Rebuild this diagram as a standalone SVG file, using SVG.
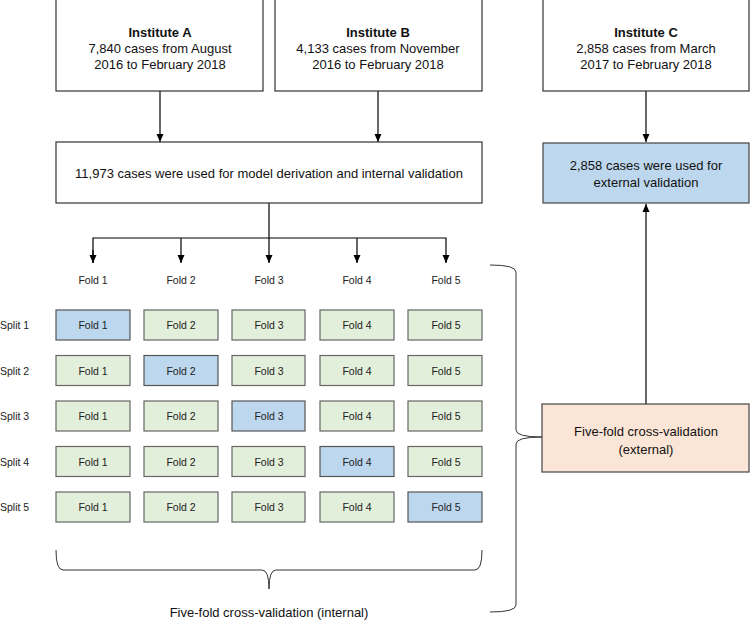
<svg xmlns="http://www.w3.org/2000/svg" width="750" height="620" viewBox="0 0 750 620">
<defs>
<marker id="ah" viewBox="0 0 8 8" refX="8" refY="4" markerWidth="8" markerHeight="8" markerUnits="userSpaceOnUse" orient="auto">
<path d="M0,0.5 L8,4 L0,7.5 Z" fill="#000"/>
</marker>
<style>
.box{fill:#fff;stroke:#333;stroke-width:1.2}
.blue{fill:#bdd7ee;stroke:#444;stroke-width:1.2}
.orange{fill:#fbe5d6;stroke:#444;stroke-width:1.2}
.cell{fill:#e2efda;stroke:#666;stroke-width:1.2}
.cellb{fill:#bdd7ee;stroke:#555;stroke-width:1.2}
.t{font-family:"Liberation Sans",Arial,sans-serif;font-size:13px;fill:#111;text-anchor:middle}
.b{font-weight:bold}
.s{font-family:"Liberation Sans",Arial,sans-serif;font-size:10.5px;fill:#222;text-anchor:middle}
.sl{font-family:"Liberation Sans",Arial,sans-serif;font-size:10.5px;fill:#222}
.ln{fill:none;stroke:#000;stroke-width:1.2}
.br{fill:none;stroke:#333;stroke-width:1}
</style>
</defs>

<g id="connectors">
<line class="ln" x1="160" y1="91" x2="160" y2="142" marker-end="url(#ah)"/>
<line class="ln" x1="378" y1="91" x2="378" y2="142" marker-end="url(#ah)"/>
<line class="ln" x1="646" y1="91" x2="646" y2="142" marker-end="url(#ah)"/>
<line class="ln" x1="646" y1="404" x2="646" y2="204" marker-end="url(#ah)"/>
<line class="ln" x1="269" y1="203" x2="269" y2="263" marker-end="url(#ah)"/>
<polyline class="ln" points="93,263 93,238 446,238 446,263" marker-end="url(#ah)"/>
<line class="ln" x1="93" y1="250" x2="93" y2="263" marker-end="url(#ah)"/>
<line class="ln" x1="181" y1="238" x2="181" y2="263" marker-end="url(#ah)"/>
<line class="ln" x1="357" y1="238" x2="357" y2="263" marker-end="url(#ah)"/>
<path class="br" d="M56,550 Q56,570 63,570 L262,570 Q269,570 269,589 Q269,570 276,570 L475,570 Q482,570 482,550"/>
<path class="br" d="M490,265 Q516,265 516,272 L516,430 Q516,437 542,437 Q516,437 516,444 L516,605 Q516,612 490,612"/>
</g>

<g id="instA">
<rect class="box" x="56" y="-1" width="207" height="92"/>
<text class="t b" x="160" y="37">Institute A</text>
<text class="t" x="160" y="53">7,840 cases from August</text>
<text class="t" x="160" y="69">2016 to February 2018</text>
</g>
<g id="instB">
<rect class="box" x="275" y="-1" width="207" height="92"/>
<text class="t b" x="378" y="37">Institute B</text>
<text class="t" x="378" y="53">4,133 cases from November</text>
<text class="t" x="378" y="69">2016 to February 2018</text>
</g>
<g id="instC">
<rect class="box" x="543" y="-1" width="206" height="92"/>
<text class="t b" x="646" y="37">Institute C</text>
<text class="t" x="646" y="53">2,858 cases from March</text>
<text class="t" x="646" y="69">2017 to February 2018</text>
</g>
<g id="derivation">
<rect class="box" x="56" y="142" width="426" height="61"/>
<text class="t" x="269" y="178">11,973 cases were used for model derivation and internal validation</text>
</g>
<g id="external">
<rect class="blue" x="543" y="143" width="206" height="60"/>
<text class="t" x="646" y="170">2,858 cases were used for</text>
<text class="t" x="646" y="187">external validation</text>
</g>
<g id="cvExternal">
<rect class="orange" x="542" y="404" width="207" height="68"/>
<text class="t" x="646" y="436">Five-fold cross-validation</text>
<text class="t" x="646" y="454">(external)</text>
</g>

<g id="foldLabels">
<text class="s" x="93" y="284">Fold 1</text>
<text class="s" x="181" y="284">Fold 2</text>
<text class="s" x="269" y="284">Fold 3</text>
<text class="s" x="357" y="284">Fold 4</text>
<text class="s" x="446" y="284">Fold 5</text>
</g>

<g id="split1">
<text class="sl" x="0" y="329">Split 1</text>
<rect class="cellb" x="56" y="310" width="74" height="30"/><text class="s" x="93" y="329">Fold 1</text>
<rect class="cell" x="144" y="310" width="74" height="30"/><text class="s" x="181" y="329">Fold 2</text>
<rect class="cell" x="232" y="310" width="73" height="30"/><text class="s" x="269" y="329">Fold 3</text>
<rect class="cell" x="320" y="310" width="74" height="30"/><text class="s" x="357" y="329">Fold 4</text>
<rect class="cell" x="408" y="310" width="74" height="30"/><text class="s" x="446" y="329">Fold 5</text>
</g>
<g id="split2">
<text class="sl" x="0" y="375">Split 2</text>
<rect class="cell" x="56" y="355.5" width="74" height="30"/><text class="s" x="93" y="374.5">Fold 1</text>
<rect class="cellb" x="144" y="355.5" width="74" height="30"/><text class="s" x="181" y="374.5">Fold 2</text>
<rect class="cell" x="232" y="355.5" width="73" height="30"/><text class="s" x="269" y="374.5">Fold 3</text>
<rect class="cell" x="320" y="355.5" width="74" height="30"/><text class="s" x="357" y="374.5">Fold 4</text>
<rect class="cell" x="408" y="355.5" width="74" height="30"/><text class="s" x="446" y="374.5">Fold 5</text>
</g>
<g id="split3">
<text class="sl" x="0" y="420">Split 3</text>
<rect class="cell" x="56" y="401" width="74" height="30"/><text class="s" x="93" y="420">Fold 1</text>
<rect class="cell" x="144" y="401" width="74" height="30"/><text class="s" x="181" y="420">Fold 2</text>
<rect class="cellb" x="232" y="401" width="73" height="30"/><text class="s" x="269" y="420">Fold 3</text>
<rect class="cell" x="320" y="401" width="74" height="30"/><text class="s" x="357" y="420">Fold 4</text>
<rect class="cell" x="408" y="401" width="74" height="30"/><text class="s" x="446" y="420">Fold 5</text>
</g>
<g id="split4">
<text class="sl" x="0" y="466">Split 4</text>
<rect class="cell" x="56" y="446.5" width="74" height="30"/><text class="s" x="93" y="465.5">Fold 1</text>
<rect class="cell" x="144" y="446.5" width="74" height="30"/><text class="s" x="181" y="465.5">Fold 2</text>
<rect class="cell" x="232" y="446.5" width="73" height="30"/><text class="s" x="269" y="465.5">Fold 3</text>
<rect class="cellb" x="320" y="446.5" width="74" height="30"/><text class="s" x="357" y="465.5">Fold 4</text>
<rect class="cell" x="408" y="446.5" width="74" height="30"/><text class="s" x="446" y="465.5">Fold 5</text>
</g>
<g id="split5">
<text class="sl" x="0" y="511">Split 5</text>
<rect class="cell" x="56" y="492" width="74" height="30"/><text class="s" x="93" y="511">Fold 1</text>
<rect class="cell" x="144" y="492" width="74" height="30"/><text class="s" x="181" y="511">Fold 2</text>
<rect class="cell" x="232" y="492" width="73" height="30"/><text class="s" x="269" y="511">Fold 3</text>
<rect class="cell" x="320" y="492" width="74" height="30"/><text class="s" x="357" y="511">Fold 4</text>
<rect class="cellb" x="408" y="492" width="74" height="30"/><text class="s" x="446" y="511">Fold 5</text>
</g>

<g id="cvInternal">
<text class="t" x="269" y="617">Five-fold cross-validation (internal)</text>
</g>
</svg>
